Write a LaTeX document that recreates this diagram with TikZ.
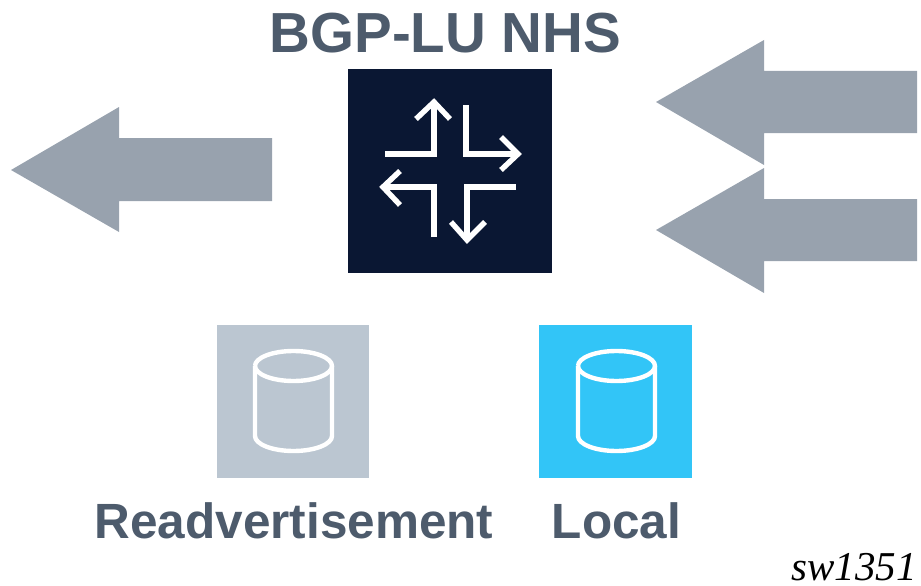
\documentclass[tikz,border=0pt]{standalone}
\usepackage{fontspec}
\setmainfont{Liberation Sans}
\newfontfamily\serifit{Liberation Serif}
\definecolor{navy}{HTML}{0A1733}
\definecolor{arrowgray}{HTML}{98A2AE}
\definecolor{boxgray}{HTML}{BBC6D1}
\definecolor{boxblue}{HTML}{32C5F7}
\definecolor{labelgray}{HTML}{4D5B6C}
\tikzset{
  blockarrow/.style={fill=arrowgray,draw=none},
  icon/.style={draw=white,line width=5.4pt,miter limit=10},
  cyl/.style={draw=white,line width=4.4pt,line join=round},
  lbl/.style={text=labelgray,font=\bfseries\fontsize{49.5}{50}\selectfont,inner sep=0pt,anchor=base},
}
\newcommand{\cylinder}[1]{% left x
  \draw[cyl] (#1,366) arc[start angle=180,end angle=540,x radius=38.5,y radius=15];
  \draw[cyl] (#1,366) -- (#1,436) arc[start angle=180,end angle=0,x radius=38.5,y radius=15] -- (#1+77,366);}
\begin{document}
\begin{tikzpicture}[x=1pt,y=-1pt]
\useasboundingbox (0,0) rectangle (921,586);
% block arrows
\fill[blockarrow] (11,170) -- (119,107) -- (119,138) -- (272,138) -- (272,201) -- (119,201) -- (119,232) -- cycle;
\fill[blockarrow] (656,102) -- (764,40) -- (764,71) -- (917,71) -- (917,133) -- (764,133) -- (764,165) -- cycle;
\fill[blockarrow] (656,230) -- (764,168) -- (764,199) -- (917,199) -- (917,261) -- (764,261) -- (764,293) -- cycle;
% router
\fill[navy] (348,69) rectangle (552,273);
\draw[icon] (385,154) -- (434,154) -- (434,104);
\draw[icon] (416,119) -- (434,102) -- (450,119);
\draw[icon] (466,105) -- (466,154) -- (516,154);
\draw[icon] (501,137) -- (518,154) -- (501,170);
\draw[icon] (434,237) -- (434,187) -- (385,187);
\draw[icon] (400,171) -- (383,187) -- (400,205);
\draw[icon] (516,187) -- (467,187) -- (467,238);
\draw[icon] (451,222) -- (467,240) -- (485,222);
% stores
\fill[boxgray] (217,325) rectangle (369,478);
\cylinder{255}
\fill[boxblue] (539,325) rectangle (692,478);
\cylinder{578}
% labels
\node[lbl,font=\bfseries\fontsize{56.5}{57}\selectfont] (title) at (445.5,52.7) {BGP-LU NHS};
\node[lbl] (readv) at (294,538) {Readvertisement};
\node[lbl] (local) at (616.5,538) {Local};
\node[inner sep=0pt,anchor=base east,text=black,font=\serifit\itshape\fontsize{41}{41}\selectfont] (tag) at (917,580) {sw1351};
\end{tikzpicture}
\end{document}
